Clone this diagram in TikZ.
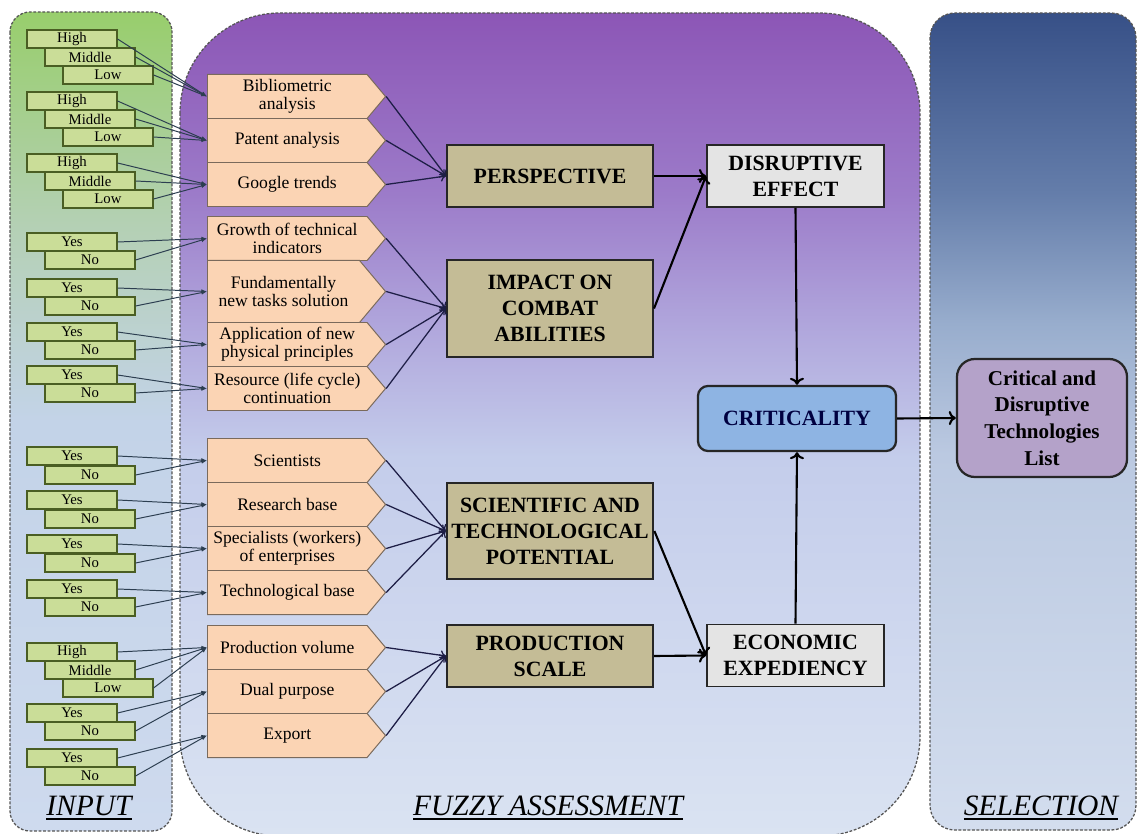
\documentclass[tikz,border=0pt]{standalone}
\usepackage{fontspec}
\setmainfont{Liberation Serif}
\usetikzlibrary{shapes.symbols,arrows.meta}

\newcommand{\ulbl}[1]{\setbox0\hbox{#1}\leavevmode\rlap{\rule[-3.5pt]{\wd0}{1.3pt}}\box0}

\definecolor{infill}{HTML}{CADD98}
\definecolor{inedge}{HTML}{4A5E23}
\definecolor{critfill}{HTML}{FBD4B4}
\definecolor{critedge}{HTML}{7A6A5C}
\definecolor{khaki}{HTML}{C4BC96}
\definecolor{boxedge}{HTML}{262626}
\definecolor{effill}{HTML}{E4E4E4}
\definecolor{critblue}{HTML}{8EB4E3}
\definecolor{listfill}{HTML}{B4A2C9}
\definecolor{inline}{HTML}{2C3E50}
\definecolor{midline}{HTML}{1E1E46}
\definecolor{panedge}{HTML}{555555}
% panel colours, top to bottom
\definecolor{inA}{HTML}{98CE6C}
\definecolor{inB}{HTML}{B4D0B4}
\definecolor{inC}{HTML}{C3D3E8}
\definecolor{inD}{HTML}{CEDAEE}
\definecolor{fzA}{HTML}{8C56B6}
\definecolor{fzB}{HTML}{9C7BC9}
\definecolor{fzC}{HTML}{B0A6DC}
\definecolor{fzD}{HTML}{C4CDEB}
\definecolor{fzE}{HTML}{DAE3F2}
\definecolor{seA}{HTML}{375087}
\definecolor{seB}{HTML}{647DAA}
\definecolor{seC}{HTML}{98ADCD}
\definecolor{seD}{HTML}{BBC9E1}
\definecolor{seE}{HTML}{D3DDEE}

\pgfdeclareverticalshading{inshade}{100bp}{color(0bp)=(inD); color(25bp)=(inD); color(50bp)=(inC); color(62bp)=(inB); color(75bp)=(inA); color(100bp)=(inA)}
\pgfdeclareverticalshading{fzshade}{100bp}{color(0bp)=(fzE); color(25bp)=(fzE); color(48bp)=(fzD); color(56bp)=(fzC); color(64bp)=(fzB); color(75bp)=(fzA); color(100bp)=(fzA)}
\pgfdeclareverticalshading{seshade}{100bp}{color(0bp)=(seE); color(25bp)=(seE); color(48bp)=(seD); color(56bp)=(seC); color(64bp)=(seB); color(75bp)=(seA); color(100bp)=(seA)}

\begin{document}
\begin{tikzpicture}[x=0.025cm, y=-0.025cm,
    inbox/.style={draw=inedge, fill=infill, line width=0.8pt, minimum width=2.25cm, minimum height=0.45cm, inner sep=0pt, font=\fontsize{10.5}{11}\selectfont},
    crit/.style={signal, signal to=east, signal pointer angle=100, draw=critedge, fill=critfill, line width=0.7pt, minimum width=4.45cm, minimum height=1.1cm, inner sep=1pt, anchor=west, align=center, font=\fontsize{12.5}{13}\selectfont},
    factor/.style={draw=boxedge, fill=khaki, line width=1.4pt, minimum width=5.15cm, minimum height=1.55cm, align=center, font=\bfseries\fontsize{15.5}{18.5}\selectfont},
    effect/.style={draw=boxedge, fill=effill, line width=1.4pt, minimum width=4.425cm, minimum height=1.55cm, align=center, font=\bfseries\fontsize{15.5}{18.5}\selectfont},
    panel/.style={draw=panedge, line width=0.9pt, dash pattern=on 2pt off 1.2pt, shade},
    lbl/.style={font=\itshape\fontsize{21}{24}\selectfont, text=black},
    inarr/.style={draw=inline, line width=0.7pt, -{Latex[length=4pt,width=3pt]}},
    midarr/.style={draw=midline, line width=0.9pt, -{To[length=4pt,width=7pt]}},
    bigarr/.style={draw=black, line width=1.5pt, -{To[length=5pt,width=10pt]}}]
    \clip (0,0) rectangle (1139,834);

    % panels
    \path[panel, shading=inshade, rounded corners=0.5cm] (10,12) rectangle (172,831);
    \path[panel, shading=fzshade, rounded corners=2.5cm] (180,13) rectangle (920,836);
    \path[panel, shading=seshade, rounded corners=0.62cm] (930,13) rectangle (1136,830);

    % input values
    \node[inbox] (bibH) at (72,39) {High};
    \node[inbox] (bibM) at (90,57) {Middle};
    \node[inbox] (bibL) at (108,75) {Low};
    \node[inbox] (patH) at (72,101) {High};
    \node[inbox] (patM) at (90,119) {Middle};
    \node[inbox] (patL) at (108,137) {Low};
    \node[inbox] (gooH) at (72,163) {High};
    \node[inbox] (gooM) at (90,181) {Middle};
    \node[inbox] (gooL) at (108,199) {Low};
    \node[inbox] (groY) at (72,242) {Yes};
    \node[inbox] (groN) at (90,260) {No};
    \node[inbox] (funY) at (72,288) {Yes};
    \node[inbox] (funN) at (90,306) {No};
    \node[inbox] (appY) at (72,332) {Yes};
    \node[inbox] (appN) at (90,350) {No};
    \node[inbox] (resY) at (72,375) {Yes};
    \node[inbox] (resN) at (90,393) {No};
    \node[inbox] (sciY) at (72,456) {Yes};
    \node[inbox] (sciN) at (90,475) {No};
    \node[inbox] (rbY) at (72,500) {Yes};
    \node[inbox] (rbN) at (90,519) {No};
    \node[inbox] (speY) at (72,544) {Yes};
    \node[inbox] (speN) at (90,563) {No};
    \node[inbox] (tbY) at (72,589) {Yes};
    \node[inbox] (tbN) at (90,607) {No};
    \node[inbox] (pvH) at (72,652) {High};
    \node[inbox] (pvM) at (90,670) {Middle};
    \node[inbox] (pvL) at (108,688) {Low};
    \node[inbox] (dpY) at (72,713) {Yes};
    \node[inbox] (dpN) at (90,731) {No};
    \node[inbox] (expY) at (72,758) {Yes};
    \node[inbox] (expN) at (90,776) {No};

    % criteria
    \node[crit] (bib) at (207,96.5) {Bibliometric\\analysis};
    \node[crit] (pat) at (207,140.5) {Patent analysis};
    \node[crit] (goo) at (207,184.5) {Google trends};
    \node[crit] (gro) at (207,238.5) {Growth of technical\\indicators};
    \node[crit, minimum height=1.55cm] (fun) at (207,291.5) {Fundamentally\\new tasks solution};
    \node[crit] (app) at (207,344.5) {Application of new\\physical principles};
    \node[crit] (res) at (207,388.5) {Resource (life cycle)\\continuation};
    \node[crit] (sci) at (207,460.5) {Scientists};
    \node[crit] (rb) at (207,504.5) {Research base};
    \node[crit] (spe) at (207,548.5) {Specialists (workers)\\of enterprises};
    \node[crit] (tb) at (207,592.5) {Technological base};
    \node[crit] (pv) at (207,647.5) {Production volume};
    \node[crit] (dp) at (207,691.5) {Dual purpose};
    \node[crit] (exp) at (207,735.5) {Export};

    % factors and results
    \node[factor] (persp) at (550,176) {PERSPECTIVE};
    \node[factor, minimum height=2.425cm] (impact) at (550,308.5) {IMPACT ON\\COMBAT\\ABILITIES};
    \node[factor, minimum height=2.4cm] (stp) at (550,531) {SCIENTIFIC AND\\TECHNOLOGICAL\\POTENTIAL};
    \node[factor] (prod) at (550,656) {PRODUCTION\\SCALE};
    \node[effect] (disr) at (795.5,176) {DISRUPTIVE\\EFFECT};
    \node[effect] (econ) at (795.5,655.5) {ECONOMIC\\EXPEDIENCY};
    \node[draw=boxedge, fill=critblue, line width=1.6pt, rounded corners=0.25cm, minimum width=4.95cm, minimum height=1.625cm, text=blue!25!black, font=\bfseries\fontsize{15.5}{18.5}\selectfont] (crit) at (797,418.5) {CRITICALITY};
    \node[draw=boxedge, fill=listfill, line width=1.6pt, rounded corners=0.45cm, minimum width=4.25cm, minimum height=2.95cm, align=center, font=\bfseries\fontsize{15}{19}\selectfont] (list) at (1042,418) {Critical and\\Disruptive\\Technologies\\List};

    % panel titles
    \node[lbl] (inlbl) at (89,808) {\ulbl{INPUT}};
    \node[lbl] (fzlbl) at (548,808) {\ulbl{FUZZY ASSESSMENT}};
    \node[lbl] (selbl) at (1041,808) {\ulbl{SELECTION}};

    % inputs to criteria
    \draw[inarr] (bibH.east) -- (bib.west); \draw[inarr] (bibM.east) -- (bib.west); \draw[inarr] (bibL.east) -- (bib.west);
    \draw[inarr] (patH.east) -- (pat.west); \draw[inarr] (patM.east) -- (pat.west); \draw[inarr] (patL.east) -- (pat.west);
    \draw[inarr] (gooH.east) -- (goo.west); \draw[inarr] (gooM.east) -- (goo.west); \draw[inarr] (gooL.east) -- (goo.west);
    \draw[inarr] (groY.east) -- (gro.west); \draw[inarr] (groN.east) -- (gro.west);
    \draw[inarr] (funY.east) -- (fun.west); \draw[inarr] (funN.east) -- (fun.west);
    \draw[inarr] (appY.east) -- (app.west); \draw[inarr] (appN.east) -- (app.west);
    \draw[inarr] (resY.east) -- (res.west); \draw[inarr] (resN.east) -- (res.west);
    \draw[inarr] (sciY.east) -- (sci.west); \draw[inarr] (sciN.east) -- (sci.west);
    \draw[inarr] (rbY.east) -- (rb.west); \draw[inarr] (rbN.east) -- (rb.west);
    \draw[inarr] (speY.east) -- (spe.west); \draw[inarr] (speN.east) -- (spe.west);
    \draw[inarr] (tbY.east) -- (tb.west); \draw[inarr] (tbN.east) -- (tb.west);
    \draw[inarr] (pvH.east) -- (pv.west); \draw[inarr] (pvM.east) -- (pv.west); \draw[inarr] (pvL.east) -- (pv.west);
    \draw[inarr] (dpY.east) -- (dp.west); \draw[inarr] (dpN.east) -- (dp.west);
    \draw[inarr] (expY.east) -- (exp.west); \draw[inarr] (expN.east) -- (exp.west);

    % criteria to factors
    \draw[midarr] (bib.east) -- (persp.west); \draw[midarr] (pat.east) -- (persp.west); \draw[midarr] (goo.east) -- (persp.west);
    \draw[midarr] (gro.east) -- (impact.west); \draw[midarr] (fun.east) -- (impact.west);
    \draw[midarr] (app.east) -- (impact.west); \draw[midarr] (res.east) -- (impact.west);
    \draw[midarr] (sci.east) -- (stp.west); \draw[midarr] (rb.east) -- (stp.west);
    \draw[midarr] (spe.east) -- (stp.west); \draw[midarr] (tb.east) -- (stp.west);
    \draw[midarr] (pv.east) -- (prod.west); \draw[midarr] (dp.east) -- (prod.west); \draw[midarr] (exp.east) -- (prod.west);

    % factors to result
    \draw[bigarr] (persp.east) -- (disr.west); \draw[bigarr] (impact.east) -- (disr.west);
    \draw[bigarr] (stp.east) -- (econ.west); \draw[bigarr] (prod.east) -- (econ.west);
    \draw[bigarr] (disr.south) -- (crit.north); \draw[bigarr] (econ.north) -- (crit.south);
    \draw[bigarr] (crit.east) -- (list.west);
\end{tikzpicture}
\end{document}
